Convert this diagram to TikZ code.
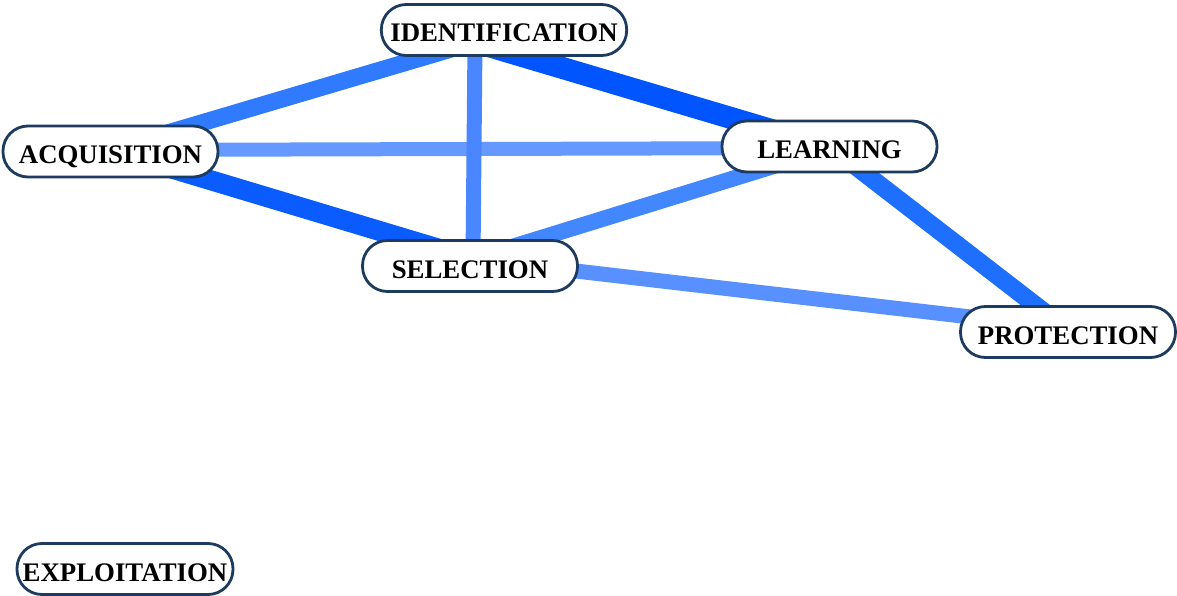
\documentclass[tikz,border=0pt]{standalone}
\usepackage{fontspec}
\setmainfont{Liberation Serif}
\begin{document}
\begin{tikzpicture}[x=1pt,y=-1pt,
  term/.style={draw=navy, line width=2.8pt, fill=white, rounded corners=25pt,
    minimum width=215pt, minimum height=51pt, inner xsep=9pt, inner ysep=0pt,
    text height=24pt, text depth=0pt,
    font=\fontsize{26.8}{30}\selectfont\bfseries, text=black},
  link/.style={line cap=butt}]
\definecolor{navy}{HTML}{1D3A5F}
\definecolor{wA}{HTML}{0055FF}
\definecolor{wB}{HTML}{0A5CFF}
\definecolor{wC}{HTML}{1F6FFF}
\definecolor{wD}{HTML}{2F7AFF}
\definecolor{wE}{HTML}{4387FF}
\definecolor{wF}{HTML}{4A86FF}
\definecolor{wG}{HTML}{5890FF}
\definecolor{wH}{HTML}{6699FF}
\useasboundingbox (0,0) rectangle (1177,596);
% graph vertices
\coordinate (pI) at (475,42);
\coordinate (pA) at (110,150);
\coordinate (pL) at (832,148);
\coordinate (pS) at (473,259);
\coordinate (pP) at (1065,328);
% weighted links
\draw[link, wH, line width=14pt] (pA) -- (pL);
\draw[link, wG, line width=15pt] (pS) -- (pP);
\draw[link, wF, line width=15pt] (pI) -- (pS);
\draw[link, wE, line width=16pt] (pS) -- (pL);
\draw[link, wD, line width=17pt] (pI) -- (pA);
\draw[link, wC, line width=18pt] (pL) -- (pP);
\draw[link, wB, line width=20pt] (pA) -- (pS);
\draw[link, wA, line width=22pt] (pI) -- (pL);
% labels
\node[term] (ident) at (504,30) {IDENTIFICATION};
\node[term] (acq) at (110.5,151.5) {ACQUISITION};
\node[term] (learn) at (829.5,146.5) {LEARNING};
\node[term] (sel) at (470,266) {SELECTION};
\node[term] (prot) at (1068,332) {PROTECTION};
\node[term, inner xsep=0pt, minimum width=216pt] (expl) at (125,569) {EXPLOITATION};
\end{tikzpicture}
\end{document}
